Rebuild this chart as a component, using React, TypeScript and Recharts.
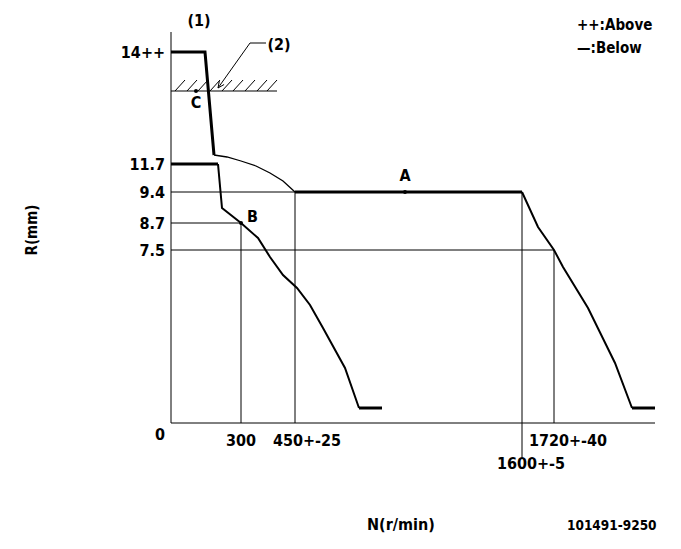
import React from 'react';
import { ComposedChart, Line, XAxis, YAxis, ReferenceLine, ReferenceDot } from 'recharts';

// schematic drawing: the governor diagram is not to scale, so x/y are positions on the drawing grid
const FONT = '"DejaVu Sans Condensed", "Liberation Sans Narrow", "DejaVu Sans", sans-serif';

const yTicks = [0, 173, 200, 231, 259, 371];
const yTickLabels = ['0', '7.5', '8.7', '9.4', '11.7', '14++'];

const xTicks = [70, 124, 351, 383];
const xTickLabels = ['300', '450+-25', '1600+-5', '1720+-40'];

// upper curve (max rack)
const upperFull = [{ x: 0, y: 371 }, { x: 34, y: 371 }, { x: 43, y: 268 }];
const upperDroop = [
  { x: 43, y: 268 }, { x: 56, y: 266 }, { x: 70, y: 262 }, { x: 85, y: 257 },
  { x: 99, y: 250 }, { x: 112, y: 242 }, { x: 124, y: 231 },
];
const ratedLine = [{ x: 124, y: 231 }, { x: 351, y: 231 }];
const highDroop = [
  { x: 351, y: 231 }, { x: 367, y: 196 }, { x: 383, y: 173 }, { x: 392, y: 156 },
  { x: 417, y: 115 }, { x: 444, y: 60 }, { x: 461, y: 15 },
];
const highTail = [{ x: 461, y: 15 }, { x: 484, y: 15 }];

// lower curve (idle)
const lowerFull = [{ x: 0, y: 259 }, { x: 47, y: 259 }];
const lowerDroop = [
  { x: 47, y: 259 }, { x: 51, y: 215 }, { x: 70, y: 200 }, { x: 87, y: 185 },
  { x: 99, y: 166 }, { x: 112, y: 148 }, { x: 126, y: 135 }, { x: 139, y: 118 },
  { x: 152, y: 95 }, { x: 174, y: 55 }, { x: 188, y: 15 },
];
const lowerTail = [{ x: 188, y: 15 }, { x: 211, y: 15 }];

// thin guide lines
const guides = [
  [{ x: 0, y: 231 }, { x: 124, y: 231 }],
  [{ x: 0, y: 200 }, { x: 70, y: 200 }],
  [{ x: 0, y: 173 }, { x: 383, y: 173 }],
  [{ x: 70, y: 200 }, { x: 70, y: 0 }],
  [{ x: 124, y: 231 }, { x: 124, y: 0 }],
  [{ x: 351, y: 231 }, { x: 351, y: -34 }],
  [{ x: 383, y: 173 }, { x: 383, y: 0 }],
  [{ x: 0, y: 332 }, { x: 106, y: 332 }],
  [{ x: 47, y: 335 }, { x: 79, y: 380 }],
  [{ x: 79, y: 380 }, { x: 95, y: 380 }],
  [{ x: 47, y: 335 }, { x: 48.3, y: 341.9 }],
  [{ x: 47, y: 335 }, { x: 53.1, y: 338.5 }],
];
const hatchStarts = [4, 16, 27, 39, 51, 62, 74, 86, 96];

const textStyle = { fill: '#000', fontFamily: FONT, fontWeight: 'bold' as const };

const XTick = (props: any) => {
  const { x, y, payload } = props;
  const i = xTicks.indexOf(payload.value);
  const shift = [0, 12, 9, 14][i] ?? 0;
  const down = i === 2 ? 46 : 23;
  return (
    <text x={x + shift} y={y + down} textAnchor="middle" fontSize={16} {...textStyle}>
      {xTickLabels[i]}
    </text>
  );
};

const YTick = (props: any) => {
  const { x, y, payload } = props;
  const i = yTicks.indexOf(payload.value);
  const down = payload.value === 0 ? 17 : 6;
  return (
    <text x={x} y={y + down} textAnchor="end" fontSize={16} {...textStyle}>
      {yTickLabels[i]}
    </text>
  );
};

const lbl = (value: string, position: any, offset = 0, extra: any = {}) => ({
  value, position, offset, fontSize: 16, ...textStyle, ...extra,
});

export default function App() {
  return (
    <div style={{ position: 'absolute', left: 0, top: 0, width: 681, height: 549, background: '#fff', fontFamily: FONT }}>
      <ComposedChart width={681} height={549} margin={{ top: 32, right: 26, bottom: 96, left: 111 }}>
        <XAxis
          type="number" dataKey="x" domain={[0, 484]} allowDataOverflow
          ticks={xTicks} interval={0} tick={<XTick />} tickLine={false}
          tickSize={0} tickMargin={0} height={30}
          axisLine={{ stroke: '#000', strokeWidth: 1 }}
        />
        <YAxis
          type="number" dataKey="y" domain={[0, 391]} allowDataOverflow
          ticks={yTicks} interval={0} tick={<YTick />} tickLine={false}
          tickSize={0} tickMargin={6} width={60}
          axisLine={{ stroke: '#000', strokeWidth: 1 }}
        />

        {guides.map((seg, i) => (
          <ReferenceLine key={'g' + i} segment={seg} stroke="#000" strokeWidth={1} ifOverflow="visible" />
        ))}
        {hatchStarts.map((s, i) => (
          <ReferenceLine key={'h' + i} segment={[{ x: s, y: 332 }, { x: s + 10, y: 343 }]} stroke="#000" strokeWidth={1} ifOverflow="visible" />
        ))}

        <Line data={upperFull} dataKey="y" type="linear" stroke="#000" strokeWidth={3} dot={false} isAnimationActive={false} />
        <Line data={upperDroop} dataKey="y" type="linear" stroke="#000" strokeWidth={1.3} dot={false} isAnimationActive={false} />
        <Line data={ratedLine} dataKey="y" type="linear" stroke="#000" strokeWidth={3} dot={false} isAnimationActive={false} />
        <Line data={highDroop} dataKey="y" type="linear" stroke="#000" strokeWidth={2} dot={false} isAnimationActive={false} />
        <Line data={highTail} dataKey="y" type="linear" stroke="#000" strokeWidth={3} dot={false} isAnimationActive={false} />
        <Line data={lowerFull} dataKey="y" type="linear" stroke="#000" strokeWidth={3} dot={false} isAnimationActive={false} />
        <Line data={lowerDroop} dataKey="y" type="linear" stroke="#000" strokeWidth={2} dot={false} isAnimationActive={false} />
        <Line data={lowerTail} dataKey="y" type="linear" stroke="#000" strokeWidth={3} dot={false} isAnimationActive={false} />

        <ReferenceDot x={234} y={231} r={2} fill="#000" stroke="none" label={lbl('A', 'top', 9)} />
        <ReferenceDot x={70} y={200} r={2} fill="#000" stroke="none" label={lbl('B', 'right', 4, { dy: -7 })} />
        <ReferenceDot x={25} y={332} r={2} fill="#000" stroke="none" label={lbl('C', 'bottom', 4)} />
        <ReferenceDot x={28} y={403} r={0} fill="none" stroke="none" ifOverflow="visible" label={lbl('(1)', 'center')} />
        <ReferenceDot x={108} y={379} r={0} fill="none" stroke="none" ifOverflow="visible" label={lbl('(2)', 'center')} />
      </ComposedChart>

      <div style={{ position: 'absolute', left: 577, top: 16, fontSize: 15, lineHeight: '18px', fontWeight: 'bold' }}>++:Above</div>
      <div style={{ position: 'absolute', left: 577, top: 39, fontSize: 15, lineHeight: '18px', fontWeight: 'bold' }}>—:Below</div>
      <div style={{ position: 'absolute', left: 2, top: 222, width: 60, height: 16, lineHeight: '16px', fontSize: 15, fontWeight: 'bold', textAlign: 'center', transform: 'rotate(-90deg)' }}>R(mm)</div>
      <div style={{ position: 'absolute', left: 367, top: 515, fontSize: 16, lineHeight: '20px', fontWeight: 'bold' }}>N(r/min)</div>
      <div style={{ position: 'absolute', left: 567, top: 517, fontSize: 13.5, lineHeight: '16px', fontWeight: 'bold' }}>101491-9250</div>
    </div>
  );
}
